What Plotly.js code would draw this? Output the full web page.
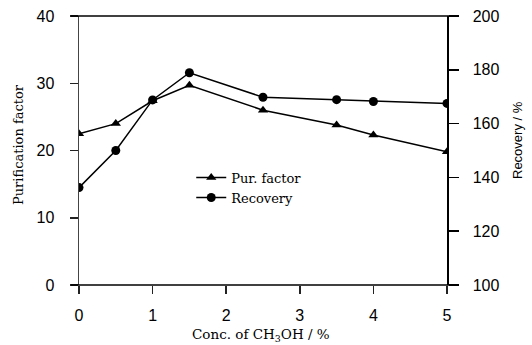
<!DOCTYPE html>
<html>
<head>
<meta charset="utf-8">
<script src="https://cdn.plot.ly/plotly-3.0.1.min.js"></script>
<style>html,body{margin:0;padding:0;background:#fff;}</style>
</head>
<body>
<div id="chart" style="width:532px;height:345px;"></div>
<script>
const conc = [0, 0.5, 1, 1.5, 2.5, 3.5, 4, 5];
const purFactor = [22.5, 24.0, 27.4, 29.7, 26.0, 23.8, 22.3, 19.8];
const recovery = [136.2, 150.0, 168.8, 178.9, 169.8, 168.9, 168.2, 167.5];
const xTicks = [0, 1, 2, 3, 4, 5];
const yTicks = [0, 10, 20, 30, 40];
const y2Ticks = [100, 120, 140, 160, 180, 200];

const W = 368, H = 269;
const serif = 'DejaVu Serif, serif';
const sans = 'Liberation Sans, Arial, sans-serif';

const traces = [
  {x: conc, y: purFactor, name: 'Pur. factor', mode: 'lines+markers', yaxis: 'y',
   line: {color: '#000', width: 1.5}, marker: {symbol: 'triangle-up', size: 9, color: '#000'}},
  {x: conc, y: recovery, name: 'Recovery', mode: 'lines+markers', yaxis: 'y2',
   line: {color: '#000', width: 1.5}, marker: {symbol: 'circle', size: 9, color: '#000'}}
];

const layout = {
  width: 532, height: 345,
  margin: {l: 79, r: 85, t: 16, b: 60},
  paper_bgcolor: '#fff', plot_bgcolor: '#fff',
  showlegend: true,
  legend: {x: 0.305, y: 0.455, xanchor: 'left', yanchor: 'top', bgcolor: 'rgba(0,0,0,0)',
           font: {family: serif, size: 13, color: '#000'}, tracegroupgap: 0},
  xaxis: {range: [0, 5], tickvals: xTicks, ticks: 'outside', ticklen: 8, tickwidth: 1.5, tickcolor: '#222',
          showline: false, showgrid: false, zeroline: false, ticklabelstandoff: 8,
          tickfont: {family: sans, size: 16, color: '#000'}},
  yaxis: {range: [0, 40], tickvals: yTicks, ticks: 'outside', ticklen: 8, tickwidth: 1.5, tickcolor: '#222',
          showline: true, linecolor: '#444', linewidth: 1.5, showgrid: false, zeroline: false,
          ticklabelstandoff: 12, tickfont: {family: sans, size: 16, color: '#000'}},
  yaxis2: {range: [100, 200], tickvals: y2Ticks, overlaying: 'y', side: 'right', ticks: 'outside',
           ticklen: 10, tickwidth: 1.5, tickcolor: '#000', showline: true, linecolor: '#000', linewidth: 1.5,
           showgrid: false, zeroline: false, ticklabelstandoff: 11,
           tickfont: {family: sans, size: 16, color: '#000'}},
  shapes: [
    {type: 'line', xref: 'paper', yref: 'paper', x0: -8 / W, x1: 1 + 10 / W, y0: 1, y1: 1,
     line: {color: '#000', width: 1.5}},
    {type: 'line', xref: 'paper', yref: 'paper', x0: -8 / W, x1: 1 + 10 / W, y0: 0, y1: 0,
     line: {color: '#000', width: 1.5}}
  ],
  annotations: [
    {text: 'Purification factor', xref: 'paper', yref: 'paper', x: (18 - 79) / W, y: (285 - 145) / H,
     xanchor: 'center', yanchor: 'middle', textangle: -90, showarrow: false,
     font: {family: serif, size: 13, color: '#000'}},
    {text: 'Recovery / %', xref: 'paper', yref: 'paper', x: (517 - 79) / W, y: (285 - 140) / H,
     xanchor: 'center', yanchor: 'middle', textangle: -90, showarrow: false,
     font: {family: sans, size: 13, color: '#000'}},
    {text: 'Conc. of CH<sub>3</sub>OH / %', xref: 'paper', yref: 'paper', x: (261 - 79) / W, y: (285 - 335) / H,
     xanchor: 'center', yanchor: 'middle', showarrow: false,
     font: {family: serif, size: 13.5, color: '#000'}}
  ]
};

Plotly.newPlot('chart', traces, layout, {displayModeBar: false, staticPlot: true});
</script>
</body>
</html>
